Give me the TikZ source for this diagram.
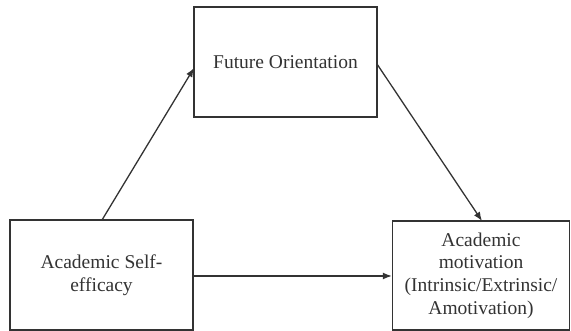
\documentclass[tikz,border=0pt]{standalone}
\usepackage{fontspec}
\setmainfont{Liberation Serif}
\usetikzlibrary{arrows.meta}
\begin{document}
\begin{tikzpicture}[x=1pt,y=-1pt,
  box/.style={draw=black!80, line width=1.4pt, rectangle, inner sep=0pt,
    font=\fontsize{19.5}{22.7}\selectfont, text=black!80, align=center},
  conn/.style={draw=black!80, line width=1.3pt, -{Latex[length=9pt,width=7pt]}}]
\useasboundingbox (0,0) rectangle (571,331);
\node[box, minimum width=183pt, minimum height=110pt] (fo) at (285.5,62) {Future Orientation};
\node[box, minimum width=183pt, minimum height=110pt] (ase) at (101.5,275) {Academic Self-\\efficacy};
\node[box, minimum width=177pt, minimum height=109pt] (am) at (481,275.5) {Academic\\motivation\\(Intrinsic/Extrinsic/\\Amotivation)};
\coordinate (a1s) at (102,220);
\coordinate (a1e) at (194,68);
\coordinate (a2s) at (377,64);
\coordinate (a2e) at (482,221);
\draw[conn] (a1s) -- (a1e);
\draw[conn] (a2s) -- (a2e);
\draw[conn] (ase.east |- 0,276) -- (am.west |- 0,276);
\end{tikzpicture}
\end{document}
